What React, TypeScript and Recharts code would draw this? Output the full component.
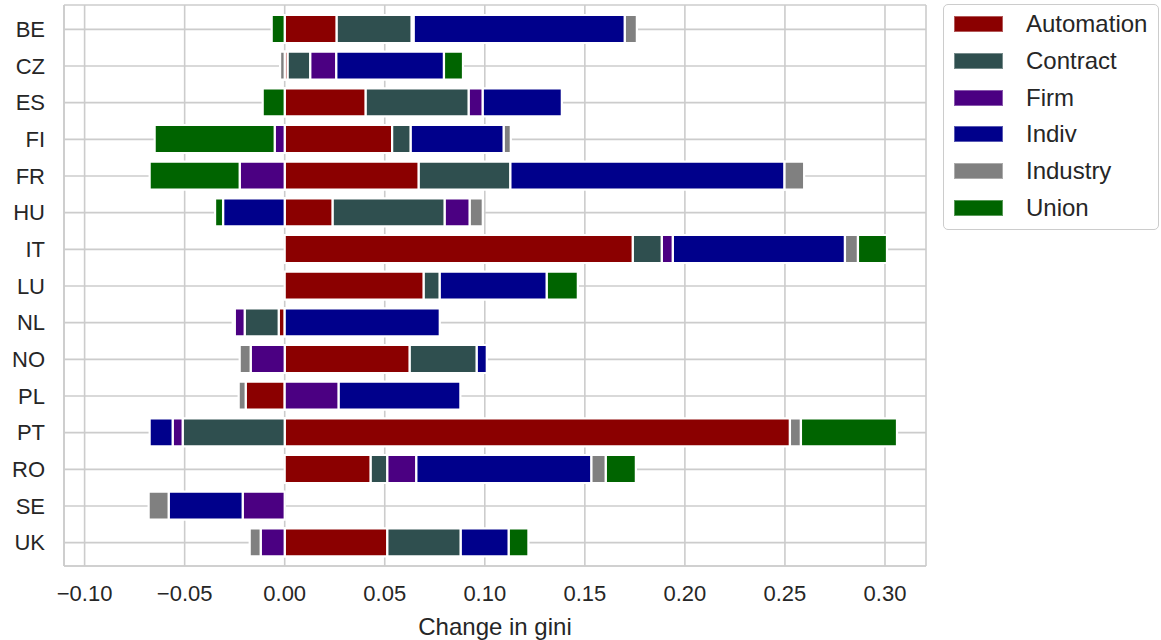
import React from "react";
import {
  BarChart,
  Bar,
  XAxis,
  YAxis,
  CartesianGrid,
  Legend,
} from "recharts";

const COUNTRIES = ["BE", "CZ", "ES", "FI", "FR", "HU", "IT", "LU", "NL", "NO", "PL", "PT", "RO", "SE", "UK"];

const AUTOMATION = [0.026, 0.0015, 0.0405, 0.0537, 0.067, 0.024, 0.174, 0.0695, -0.003, 0.0625, -0.0195, 0.2525, 0.043, 0, 0.0513];
const CONTRACT = [0.0375, 0.0113, 0.0515, 0.0093, 0.0458, 0.056, 0.0145, 0.008, -0.017, 0.0335, 0, -0.051, 0.0083, 0, 0.0367];
const FIRM = [0.001, 0.013, 0.007, -0.005, -0.0225, 0.0125, 0.0055, 0, -0.005, -0.017, 0.027, -0.005, 0.0145, -0.021, -0.012];
const INDIV = [0.1055, 0.0538, 0.0395, 0.0465, 0.137, -0.0308, 0.086, 0.0535, 0.0775, 0.005, 0.0608, -0.0115, 0.0875, -0.037, 0.024];
const INDUSTRY = [0.006, -0.0023, 0, 0.0035, 0.0098, 0.0065, 0.0065, 0, -0.001, -0.0055, -0.0035, 0.0055, 0.0072, -0.01, -0.0055];
const UNION = [-0.0065, 0.0095, -0.011, -0.06, -0.045, -0.004, 0.0145, 0.0155, 0, 0, 0, 0.048, 0.015, 0, 0.0098];

const X_TICKS = [-0.1, -0.05, 0, 0.05, 0.1, 0.15, 0.2, 0.25, 0.3];
const X_DOMAIN = [-0.1103, 0.3205];

const SERIES = [
  { key: "Automation", color: "#8B0000", values: AUTOMATION },
  { key: "Contract", color: "#2F4F4F", values: CONTRACT },
  { key: "Firm", color: "#4B0082", values: FIRM },
  { key: "Indiv", color: "#00008B", values: INDIV },
  { key: "Industry", color: "#808080", values: INDUSTRY },
  { key: "Union", color: "#006400", values: UNION },
];

const data = COUNTRIES.map((c, i) => {
  const row: Record<string, any> = { country: c };
  SERIES.forEach((s) => {
    row[s.key] = s.values[i];
  });
  return row;
});

const FONT = "'Liberation Sans', Arial, Helvetica, sans-serif";
const TEXT = "#262626";
const GRID = "#cccccc";

const fmt = (v: number) => {
  const s = Math.abs(v).toFixed(2);
  return v < -1e-9 ? "\u2212" + s : s;
};

const renderLegend = () => (
  <div
    style={{
      boxSizing: "border-box",
      width: 216,
      height: 226,
      border: `1.5px solid ${GRID}`,
      borderRadius: 5,
      background: "#fff",
      paddingTop: 1,
      fontFamily: FONT,
    }}
  >
    {SERIES.map((s) => (
      <div
        key={s.key}
        style={{ height: 36.7, display: "flex", alignItems: "center" }}
      >
        <div
          style={{
            marginLeft: 10,
            width: 49,
            height: 16,
            background: s.color,
            boxShadow: "inset 0 0 0 1px rgba(255,255,255,0.35)",
          }}
        />
        <span
          style={{
            marginLeft: 23,
            fontSize: 24,
            color: TEXT,
            lineHeight: "24px",
          }}
        >
          {s.key}
        </span>
      </div>
    ))}
  </div>
);

export default function App() {
  return (
    <div style={{ position: "absolute", left: 0, top: 0, background: "#fff" }}>
      <BarChart
        width={1161}
        height={640}
        data={data}
        layout="vertical"
        stackOffset="sign"
        margin={{ top: 5, right: 235, bottom: 0, left: 0 }}
      >
        <CartesianGrid stroke={GRID} strokeWidth={1.6} />
        <XAxis
          type="number"
          domain={X_DOMAIN}
          allowDataOverflow
          ticks={X_TICKS}
          tickFormatter={fmt}
          height={74}
          tickLine={false}
          tickSize={0}
          tickMargin={19}
          axisLine={{ stroke: GRID, strokeWidth: 1.6 }}
          tick={{ fontSize: 22, fill: TEXT, fontFamily: FONT }}
          label={{
            value: "Change in gini",
            position: "insideBottom",
            offset: 5,
            style: { fontSize: 24, fill: TEXT, fontFamily: FONT },
          }}
        />
        <XAxis
          xAxisId="top"
          orientation="top"
          type="number"
          domain={X_DOMAIN}
          allowDataOverflow
          height={0}
          tick={false}
          tickLine={false}
          axisLine={{ stroke: GRID, strokeWidth: 1.6 }}
        />
        <YAxis
          type="category"
          dataKey="country"
          width={64}
          tickLine={false}
          tickSize={0}
          tickMargin={19}
          padding={{ top: 6, bottom: 5 }}
          axisLine={{ stroke: GRID, strokeWidth: 1.6 }}
          tick={{ fontSize: 22, fill: TEXT, fontFamily: FONT }}
        />
        <YAxis
          yAxisId="right"
          orientation="right"
          type="category"
          dataKey="country"
          width={0}
          tick={false}
          tickLine={false}
          axisLine={{ stroke: GRID, strokeWidth: 1.6 }}
        />
        <Legend
          layout="vertical"
          align="center"
          verticalAlign="middle"
          content={renderLegend}
          wrapperStyle={{ left: 943, top: 4, width: 216, height: 226 }}
        />
        {SERIES.map((s) => (
          <Bar
            key={s.key}
            dataKey={s.key}
            name={s.key}
            stackId="a"
            fill={s.color}
            stroke="#ffffff"
            strokeWidth={2.2}
            barSize={28}
            isAnimationActive={false}
          />
        ))}
      </BarChart>
    </div>
  );
}
